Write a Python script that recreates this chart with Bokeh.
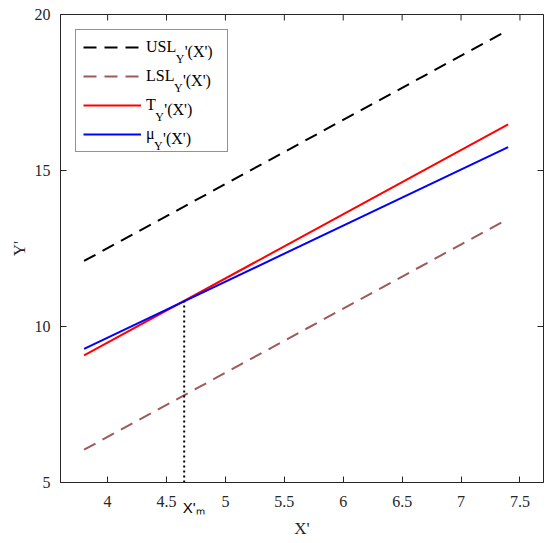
from math import pi
from bokeh.plotting import figure
from bokeh.models import Range1d, Legend, LegendItem, Label, FixedTicker, LinearAxis
from bokeh.embed import file_html
from bokeh.resources import INLINE

# data
x_ends = [3.8, 7.4]
usl = [12.1, 19.5]
lsl = [6.05, 13.45]
target = [9.075, 16.475]
mu = [9.28, 15.75]
x_m = 4.65
y_m = 10.81
x_ticks = [4, 4.5, 5, 5.5, 6, 6.5, 7, 7.5]
y_ticks = [5, 10, 15, 20]
names = ["USL", "LSL", "T", "\u03bc"]

AX = "#262626"
SERIF = "Liberation Serif"
SANS = "Liberation Sans"

W, H = 548, 541
BL, BR, BT, BB = 60, 5, 14, 59
FRAME_H = H - BT - BB

p = figure(width=W, height=H,
           x_range=Range1d(3.6, 7.7), y_range=Range1d(5, 20),
           output_backend="svg", toolbar_location=None,
           min_border_left=BL, min_border_right=BR,
           min_border_top=BT, min_border_bottom=BB,
           y_axis_label="Y'")
p.grid.visible = False
p.outline_line_color = AX
p.outline_line_width = 1

# second axis under the first one: carries the X'm mark and the axis title
xm_axis = LinearAxis(ticker=FixedTicker(ticks=[x_m + 0.08]),
                     major_label_overrides={x_m + 0.08: "X'\u2098"},
                     axis_label="X'")
p.add_layout(xm_axis, "below")

p.xaxis[0].ticker = FixedTicker(ticks=x_ticks)
p.yaxis.ticker = FixedTicker(ticks=y_ticks)

for ax in p.axis:
    ax.axis_line_color = AX
    ax.major_tick_line_color = AX
    ax.major_tick_in = 6
    ax.major_tick_out = 0
    ax.minor_tick_line_color = None
    ax.major_label_text_color = AX
    ax.major_label_text_font = SERIF
    ax.major_label_text_font_size = "16px"
    ax.axis_label_text_font = SERIF
    ax.axis_label_text_font_size = "17px"
    ax.axis_label_text_font_style = "normal"
    ax.axis_label_text_color = AX

p.xaxis[0].major_label_standoff = 13
p.yaxis.major_label_standoff = 10
p.yaxis.axis_label_standoff = 3

xm_axis.axis_line_color = None
xm_axis.major_tick_line_color = None
xm_axis.major_label_text_font = SANS
xm_axis.major_label_text_font_size = "15px"
xm_axis.major_label_text_color = "black"
xm_axis.major_label_standoff = -11
xm_axis.axis_label_standoff = 0

# inward ticks on the top and right edges of the box
p.scatter(x_ticks, [p.y_range.end] * len(x_ticks), marker="dash", angle=pi / 2,
          size=12, line_color=AX, line_width=1)
p.scatter([p.x_range.end] * len(y_ticks), y_ticks, marker="dash",
          size=12, line_color=AX, line_width=1)

r_usl = p.line(x_ends, usl, line_color="black", line_width=2, line_dash="13 8")
r_lsl = p.line(x_ends, lsl, line_color="#a0595b", line_width=2, line_dash="13 8")
r_t = p.line(x_ends, target, line_color="#ff0000", line_width=2)
r_mu = p.line(x_ends, mu, line_color="#0000ff", line_width=2)

# dotted drop line at X'_m
p.line([x_m, x_m], [p.y_range.start, y_m], line_color="black",
       line_width=2, line_dash="2 3")

legend = Legend(items=[LegendItem(label=n, renderers=[r])
                       for n, r in zip(names, (r_usl, r_lsl, r_t, r_mu))],
                location="top_left", margin=15, padding=7, spacing=9,
                glyph_width=58, glyph_height=20, label_height=20,
                label_width=74, label_standoff=5,
                border_line_color=AX, border_line_width=1,
                background_fill_alpha=0,
                label_text_font=SERIF, label_text_font_size="16px",
                label_text_color="black")
p.add_layout(legend)

# subscripts and arguments after each legend name
main_w = [30.2, 28.4, 9.8, 8.6]
TX = 15 + 7 + 58 + 5
for i, w in enumerate(main_w):
    base = FRAME_H - (15 + 7 + 10 + 29 * i + 5)
    p.add_layout(Label(x=TX + w, y=base - 7, x_units="screen", y_units="screen", text="Y",
                       text_font=SERIF, text_font_size="12px", text_color="black",
                       text_baseline="alphabetic", level="overlay"))
    p.add_layout(Label(x=TX + w + 9, y=base, x_units="screen", y_units="screen", text="'(X')",
                       text_font=SERIF, text_font_size="16px", text_color="black",
                       text_baseline="alphabetic", level="overlay"))

open("out.html", "w").write(file_html(p, INLINE))
